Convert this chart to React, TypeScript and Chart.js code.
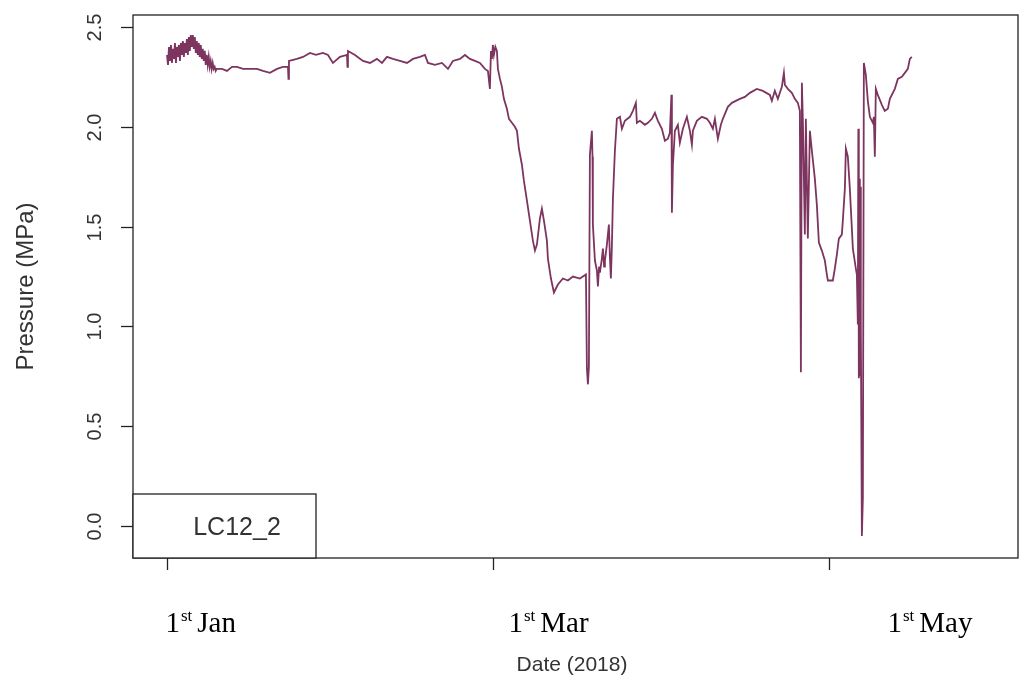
import React, { useEffect, useRef } from "react";
import { Chart, registerables } from "chart.js";

Chart.register(...registerables);

// Days since 1st Jan 2018
const days = [
  0.0, 0.18, 0.36, 0.54, 0.72, 0.9, 1.08, 1.26, 1.44, 1.62, 1.8, 1.98, 2.16, 2.34, 2.52, 2.7, 2.88, 3.06, 3.24, 3.42, 3.6, 3.78, 3.96, 4.14,
  4.32, 4.5, 4.68, 4.86, 5.04, 5.22, 5.4, 5.58, 5.76, 5.94, 6.12, 6.3, 6.48, 6.66, 6.84, 7.02, 7.2, 7.38, 7.56, 7.74, 7.92, 8.1, 8.28, 8.46,
  8.64, 8.82, 9.0,
  9.96, 10.87, 11.78, 12.68, 13.77, 15.04, 16.3, 17.39, 18.66, 19.93, 21.01, 21.92, 22.01, 22.1, 23.55, 24.64, 25.91, 26.99, 28.26, 29.17,
  30.07, 31.34, 32.61, 32.7, 32.79, 34.06, 35.51, 36.78, 38.04, 38.95, 39.86, 40.94, 42.21, 43.48, 44.57, 45.83, 46.74, 47.28, 48.55, 49.82,
  50.91, 51.81, 53.08, 53.99, 54.89, 55.8, 56.7, 57.61, 58.15, 58.51, 58.7, 58.88, 59.05, 59.24, 59.5, 59.78, 59.96,
  60.33, 60.69, 61.05, 61.59, 61.96, 62.5, 63.04, 63.41, 63.77, 64.31, 64.67, 65.22, 65.76, 66.3, 66.67, 67.03, 67.57, 67.93, 68.3, 68.84,
  69.02, 69.57, 70.11, 70.83, 71.74, 72.64, 73.55, 74.82, 75.91,
  76.09, 76.27, 76.45, 76.63, 76.99, 77.1, 77.17, 77.54, 77.9, 78.08, 78.3, 78.44, 78.8, 78.99, 79.2, 79.35, 79.71, 80.07, 80.25, 80.43, 80.62,
  80.8, 81.16, 81.52, 82.07, 82.43, 82.97, 83.88, 84.42, 84.96, 85.14, 85.69, 86.59, 87.14, 87.86, 88.41, 88.95, 89.67, 90.22, 90.76, 91.12,
  91.4, 91.49, 91.67, 92.03, 92.57, 92.93, 93.48, 94.2, 94.75, 95.11, 95.29, 96.01, 96.92, 97.83, 98.37, 98.91, 99.28, 99.82, 100.36, 100.72,
  101.63, 102.36, 103.8, 104.71, 105.62, 106.88, 107.97, 109.24, 109.6, 110.14, 110.69, 111.41, 111.78, 111.96, 112.5, 113.22, 113.77, 114.31,
  114.67, 114.86, 115.04, 115.22, 115.58, 115.76, 116.12, 116.49, 116.85, 117.39, 117.75, 118.12, 118.66, 119.2, 119.57, 119.75, 120.65,
  121.01, 121.38, 121.74, 122.28, 122.46, 122.83, 123.01, 123.37, 123.73, 124.28, 124.82, 125.0, 125.18, 125.27, 125.36, 125.45, 125.54,
  125.63, 125.72, 125.91, 126.09, 126.27, 126.63, 126.99, 127.36, 127.9, 128.08, 128.26, 128.44, 128.8, 129.53, 130.07, 130.62, 130.98,
  131.88, 132.43, 133.15, 133.7, 134.24, 134.6, 134.96,
];

// Pressure (MPa)
const pressure = [
  2.36, 2.31, 2.4, 2.33, 2.41, 2.32, 2.39, 2.34, 2.42, 2.32, 2.4, 2.35, 2.41, 2.33, 2.42, 2.36, 2.43, 2.35, 2.42, 2.37, 2.44, 2.36, 2.45, 2.38,
  2.46, 2.4, 2.46, 2.39, 2.45, 2.37, 2.43, 2.36, 2.42, 2.35, 2.41, 2.34, 2.39, 2.33, 2.38, 2.31, 2.36, 2.31, 2.35, 2.3, 2.33, 2.29, 2.32, 2.29,
  2.3, 2.28, 2.29,
  2.29, 2.28, 2.3, 2.3, 2.29, 2.29, 2.29, 2.28, 2.27, 2.29, 2.3, 2.3, 2.24, 2.33, 2.34, 2.35, 2.37, 2.36, 2.37, 2.36,
  2.32, 2.35, 2.36, 2.3, 2.38, 2.36, 2.33, 2.32, 2.34, 2.32, 2.35, 2.34, 2.33, 2.32, 2.34, 2.35, 2.36, 2.32, 2.31, 2.32,
  2.29, 2.33, 2.34, 2.36, 2.34, 2.33, 2.32, 2.29, 2.28, 2.19, 2.38, 2.34, 2.41, 2.36, 2.4, 2.38, 2.29,
  2.24, 2.2, 2.14, 2.09, 2.04, 2.02, 2.0, 1.98, 1.89, 1.81, 1.73, 1.63, 1.53, 1.43, 1.38, 1.41, 1.54, 1.59, 1.53, 1.43,
  1.34, 1.24, 1.17, 1.21, 1.24, 1.23, 1.25, 1.24, 1.26,
  0.79, 0.71, 0.8, 1.86, 1.98, 1.85, 1.51, 1.33, 1.28, 1.2, 1.3, 1.27, 1.34, 1.39, 1.3, 1.33, 1.41, 1.51, 1.35, 1.24, 1.41,
  1.64, 1.88, 2.04, 2.05, 1.99, 2.03, 2.05, 2.08, 2.12, 2.02, 2.03, 2.01, 2.02, 2.04, 2.07, 2.03, 1.99, 1.93, 1.94, 1.97,
  2.16, 1.57, 1.81, 1.98, 2.01, 1.92, 1.99, 2.05, 1.98, 1.91, 1.98, 2.03, 2.05, 2.04, 2.02, 1.99, 2.04, 1.94, 2.01, 2.04,
  2.1, 2.12, 2.14, 2.15, 2.17, 2.19, 2.18, 2.16, 2.13, 2.18, 2.14, 2.2, 2.27, 2.21, 2.19, 2.17, 2.14, 2.12,
  2.08, 0.77, 2.22, 2.03, 1.46, 2.04, 1.44, 1.98, 1.88, 1.74, 1.61, 1.42, 1.38, 1.33, 1.26, 1.23, 1.23,
  1.29, 1.36, 1.44, 1.46, 1.53, 1.69, 1.89, 1.85, 1.69, 1.39, 1.29, 1.26, 1.01, 1.99, 0.74, 1.74, 0.75,
  1.7, 1.0, -0.05, 0.14, 2.32, 2.26, 2.13, 2.05, 2.02, 2.05, 1.85, 2.19, 2.16, 2.11, 2.08, 2.09, 2.14,
  2.19, 2.24, 2.25, 2.27, 2.29, 2.34, 2.35,
];

const yTicks = [0, 0.5, 1, 1.5, 2, 2.5];
const xTickDays = [0, 59, 120];
const xTickMonths = ["Jan", "Mar", "May"];
const xTickOrdinal = ["1", "1", "1"];
const xTickSuffix = ["st", "st", "st"];
const seriesName = "LC12_2";
const xTitle = "Date (2018)";
const yTitle = "Pressure (MPa)";

const LINE_COLOR = "#7d3560";
const AXIS_COLOR = "#222222";
const TEXT_COLOR = "#333333";
const SANS = '"Liberation Sans", Arial, sans-serif';
const SERIF = '"Liberation Serif", "Times New Roman", serif';

const rPlotPlugin = {
  id: "rPlot",
  afterDraw(chart: any) {
    const { ctx, chartArea } = chart;
    const xs = chart.scales.x;
    const ys = chart.scales.y;
    const { left, right, top, bottom } = chartArea;
    ctx.save();
    ctx.strokeStyle = AXIS_COLOR;
    ctx.lineWidth = 1.3;
    // box
    ctx.strokeRect(left, top, right - left, bottom - top);

    // y ticks & labels
    ctx.fillStyle = TEXT_COLOR;
    ctx.font = `20px ${SANS}`;
    ctx.textAlign = "center";
    ctx.textBaseline = "middle";
    yTicks.forEach((v) => {
      const y = Math.round(ys.getPixelForValue(v)) + 0.5;
      ctx.beginPath();
      ctx.moveTo(left - 12, y);
      ctx.lineTo(left, y);
      ctx.stroke();
      ctx.save();
      ctx.translate(95, y);
      ctx.rotate(-Math.PI / 2);
      ctx.fillText(v.toFixed(1), 0, 0);
      ctx.restore();
    });

    // y title
    ctx.save();
    ctx.font = `24px ${SANS}`;
    ctx.translate(26, (top + bottom) / 2);
    ctx.rotate(-Math.PI / 2);
    ctx.fillText(yTitle, 0, 0);
    ctx.restore();

    // x ticks & labels
    const labelShift = [-2, 15, 58];
    xTickDays.forEach((d, i) => {
      const x = Math.round(xs.getPixelForValue(d)) + 0.5;
      ctx.beginPath();
      ctx.moveTo(x, bottom);
      ctx.lineTo(x, bottom + 12);
      ctx.stroke();
      let cx = x + labelShift[i];
      const base = 632;
      ctx.fillStyle = "#000";
      ctx.textAlign = "left";
      ctx.textBaseline = "alphabetic";
      ctx.font = `29px ${SERIF}`;
      ctx.fillText(xTickOrdinal[i], cx, base);
      cx += ctx.measureText(xTickOrdinal[i]).width + 1;
      ctx.font = `17px ${SERIF}`;
      ctx.fillText(xTickSuffix[i], cx, base - 11);
      cx += ctx.measureText(xTickSuffix[i]).width + 5;
      ctx.font = `29px ${SERIF}`;
      ctx.fillText(xTickMonths[i], cx, base);
    });

    // x title
    ctx.fillStyle = TEXT_COLOR;
    ctx.font = `21px ${SANS}`;
    ctx.textAlign = "center";
    ctx.textBaseline = "middle";
    ctx.fillText(xTitle, 572, 665);

    // legend box
    const lx1 = left;
    const lx2 = 316;
    const ly1 = 494;
    ctx.fillStyle = "#fff";
    ctx.fillRect(lx1, ly1, lx2 - lx1, bottom - ly1);
    ctx.strokeRect(lx1, ly1, lx2 - lx1, bottom - ly1);
    ctx.fillStyle = TEXT_COLOR;
    ctx.font = `25px ${SANS}`;
    ctx.fillText(seriesName, 237, 528);
    ctx.restore();
  },
};

export default function App() {
  const ref = useRef<HTMLCanvasElement | null>(null);
  useEffect(() => {
    document.body.style.margin = "0";
    const canvas = ref.current;
    if (!canvas) return;
    const points = days.map((d, i) => ({ x: d, y: pressure[i] }));
    const chart = new Chart(canvas, {
      type: "scatter",
      data: {
        datasets: [
          {
            label: seriesName,
            data: points,
            showLine: true,
            borderColor: LINE_COLOR,
            backgroundColor: LINE_COLOR,
            borderWidth: 1.8,
            pointRadius: 0,
            pointHoverRadius: 0,
            tension: 0,
          },
        ],
      },
      options: {
        responsive: false,
        animation: false,
        layout: { padding: { left: 133, top: 15, right: 10, bottom: 128 } },
        plugins: { legend: { display: false }, tooltip: { enabled: false } },
        scales: {
          x: { type: "linear", min: -6.16, max: 154.2, display: false },
          y: { type: "linear", min: -0.16, max: 2.56, display: false },
        },
      },
      plugins: [rPlotPlugin],
    });
    return () => chart.destroy();
  }, []);
  return (
    <div style={{ width: 1028, height: 686, background: "#fff" }}>
      <canvas ref={ref} width={1028} height={686} style={{ display: "block" }} />
    </div>
  );
}
